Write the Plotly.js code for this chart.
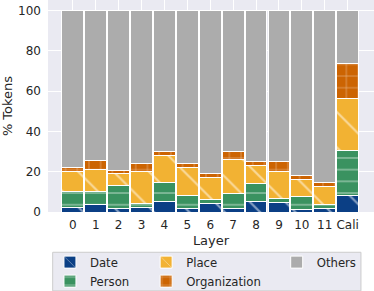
<!DOCTYPE html>
<html>
<head>
<meta charset="utf-8">
<script src="https://cdn.plot.ly/plotly-3.0.1.min.js"></script>
<style>html,body{margin:0;padding:0;background:#fff;}#chart{width:374px;height:291px;}</style>
</head>
<body>
<div id="chart"></div>
<script>
const layers = ['0','1','2','3','4','5','6','7','8','9','10','11','Cali'];
const date = [2, 3.5, 1.8, 2, 5, 1.8, 4, 1.8, 5, 4.8, 1.2, 1.8, 8];
const person = [8, 6.5, 11.2, 2, 9.5, 6.2, 2, 7.5, 9, 2, 6.7, 2, 22.4];
const place = [10, 11, 6, 16, 13.5, 14.2, 11, 17, 9, 13.2, 8, 9, 26];
const organization = [2, 4.5, 1.8, 4, 2, 2, 2, 3.6, 2, 5, 2, 2, 17.4];
const others = [78, 74.5, 79.2, 76, 70, 75.8, 81, 70.1, 75, 75, 82.1, 85.2, 26.2];
const yTicks = [0, 20, 40, 60, 80, 100];

const FONT = 'DejaVu Sans';
const TXT = '#262626';

function bar(name, y, color, shape, size, solidity, legend, rank) {
  const marker = {color: color, line: {color: '#ffffff', width: 1}};
  if (shape) {
    marker.pattern = {shape: shape, size: size, solidity: solidity, fgcolor: '#ffffff', bgcolor: color, fillmode: 'overlay'};
  }
  return {type: 'bar', name: name, x: layers, y: y, marker: marker, legend: legend, legendrank: rank};
}

const data = [
  bar('Date', date, '#0b3f85', '\\', 25, 0.09, 'legend', 1),
  bar('Person', person, '#3a9260', '-', 11.7, 0.11, 'legend', 2),
  bar('Place', place, '#f2b233', '\\', 25, 0.09, 'legend2', 1),
  bar('Organization', organization, '#cc6402', '+', 11.7, 0.11, 'legend2', 2),
  bar('Others', others, '#acacac', '', 0, 0, 'legend3', 1)
];

const legendBase = {
  orientation: 'v', xanchor: 'left', yanchor: 'top', bgcolor: 'rgba(0,0,0,0)',
  borderwidth: 0, font: {family: FONT, size: 11.7, color: TXT}, traceorder: 'normal'
};

const layout = {
  width: 374, height: 291,
  margin: {l: 48, r: 0, t: 0, b: 79, autoexpand: false},
  paper_bgcolor: '#ffffff', plot_bgcolor: '#eaeaf2',
  barmode: 'stack', bargap: 0.05,
  font: {family: FONT, color: TXT, size: 12},
  showlegend: true,
  xaxis: {
    type: 'category', range: [-1.083, 13.15],
    showgrid: true, gridcolor: '#ffffff', gridwidth: 1,
    zeroline: false, showline: false, ticks: '',
    tickfont: {family: FONT, size: 12, color: TXT},
    ticklabelstandoff: 4,
    title: {text: 'Layer', font: {family: FONT, size: 13, color: TXT}, standoff: 4},
    fixedrange: true
  },
  yaxis: {
    range: [0, 105.2], tickvals: yTicks,
    showgrid: true, gridcolor: '#ffffff', gridwidth: 1,
    zeroline: false, showline: false, ticks: '',
    tickfont: {family: FONT, size: 12, color: TXT},
    ticklabelstandoff: 6,
    title: {text: '% Tokens', font: {family: FONT, size: 13, color: TXT}, standoff: 8.5},
    fixedrange: true
  },
  legend: Object.assign({}, legendBase, {x: 0.006, y: -0.168}),
  legend2: Object.assign({}, legendBase, {x: 0.301, y: -0.168}),
  legend3: Object.assign({}, legendBase, {x: 0.7015, y: -0.168}),
  shapes: [{
    type: 'rect', xref: 'paper', yref: 'paper', layer: 'below',
    x0: 0.0144, x1: 0.960, y0: -0.372, y1: -0.190,
    fillcolor: '#eaeaf2', line: {color: '#cccccc', width: 1}
  }]
};

Plotly.newPlot('chart', data, layout, {staticPlot: true, displayModeBar: false});
</script>
</body>
</html>
